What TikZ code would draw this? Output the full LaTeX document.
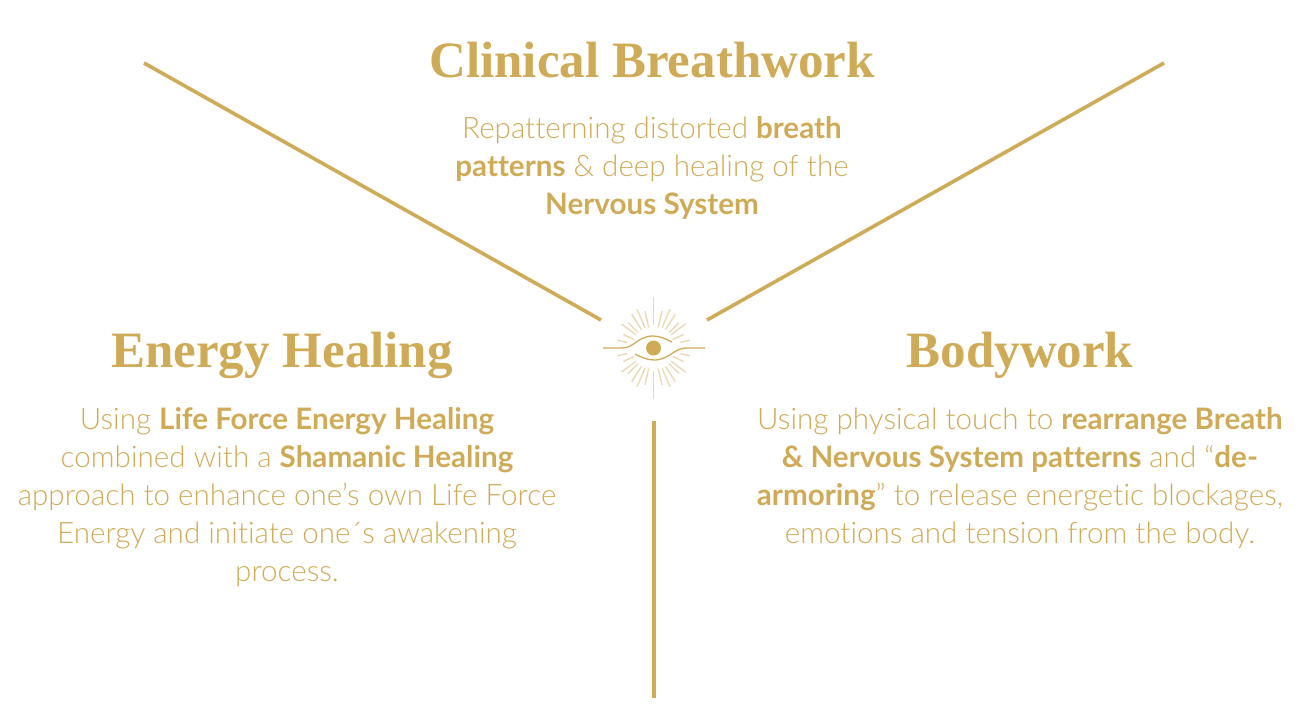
\documentclass[tikz,border=0pt]{standalone}
\usepackage{fontspec}
\setmainfont{Lato Light}[BoldFont={Lato Bold},Ligatures=NoCommon]
\newfontfamily\headfont{Liberation Serif}
\usetikzlibrary{positioning}
\definecolor{gold}{HTML}{CFAB58}
\begin{document}
\begin{tikzpicture}[x=1pt,y=-1pt,
	title/.style={text=gold,inner sep=0pt,anchor=base,text depth=11pt,font=\headfont\bfseries\fontsize{51}{60}\selectfont},
	blurb/.style={text=gold,inner sep=0pt,align=center,font=\fontsize{29.6}{38}\selectfont},
	arm/.style={gold,line width=3.6pt},
	ray/.style={gold!45,line width=1.4pt},
	lid/.style={gold,line width=1.3pt},
	node distance = 28pt]
		\useasboundingbox (0,0) rectangle (1309,724);
		\node[title] (cb) at (652,77) {Clinical Breathwork};
		\node[blurb] (cbtext)[below = of cb]{Repatterning distorted \textbf{breath}\\\textbf{patterns} \& deep healing of the\\\textbf{Nervous System}};
		\node[title] (eh) at (282,367) {Energy Healing};
		\node[blurb] (ehtext)[below = 29pt of eh,xshift=5pt]{Using \textbf{Life Force Energy Healing}\\combined with a \textbf{Shamanic Healing}\\approach to enhance one’s own Life Force\\Energy and initiate one´s awakening\\process.};
		\node[title] (bw) at (1020,367) {Bodywork};
		\node[blurb] (bwtext)[below = 29pt of bw]{Using physical touch to \textbf{rearrange Breath}\\\textbf{\& Nervous System patterns} and “\textbf{de-}\\\textbf{armoring}” to release energetic blockages,\\emotions and tension from the body.};
		% the three arms
		\coordinate (a1) at (144,63);
		\coordinate (a2) at (601,320);
		\coordinate (b1) at (1164,63);
		\coordinate (b2) at (707,320);
		\coordinate (c1) at (654,421);
		\coordinate (c2) at (654,698);
		\draw[arm] (a1) -- (a2);
		\draw[arm] (b1) -- (b2);
		\draw[arm] (c1) -- (c2);
		% eye
		\node[circle,fill=gold,minimum size=15pt,inner sep=0pt] (iris) at (653.5,348) {};
		\draw[ray] (iris.center) ++(0,-51) -- ++(0,28);
		\draw[ray] (iris.center) ++(0,23) -- ++(0,28);
		\foreach \a/\r/\s in {12/27/37,24/21/33,37/22/40,45/22/36,57/22/40,67/22/42,77/21/38}{
			\foreach \b in {\a,180-\a,180+\a,-\a}
				\draw[ray] (iris.center) ++(\b:\r) -- ++(\b:\s-\r);
		}
		\draw[lid] (603,348) -- (622,348) .. controls (634,348) and (638,336) .. (653,336) .. controls (660,336) and (666,339) .. (672,342);
		\draw[lid] (705,348) -- (686,348) .. controls (674,348) and (669,360) .. (654,360) .. controls (647,360) and (641,357) .. (635,354);
	\end{tikzpicture}
\end{document}
